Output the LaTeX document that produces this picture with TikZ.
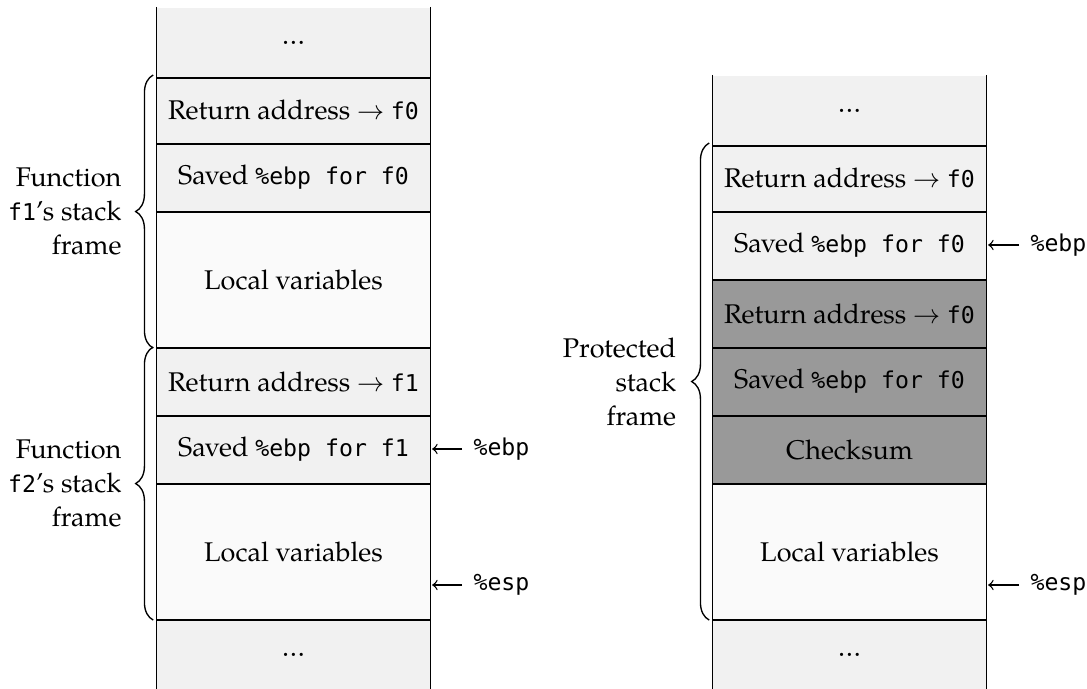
\documentclass[tikz,border=0pt]{standalone}
\usepackage{fontspec}
\setmainfont{TeX Gyre Pagella}
\setmonofont[Scale=MatchLowercase]{DejaVu Sans Mono}
\usetikzlibrary{decorations.pathreplacing}
\definecolor{cellgray}{HTML}{F1F1F1}
\definecolor{cellwhite}{HTML}{FAFAFA}
\definecolor{cellprot}{HTML}{999999}

\begin{document}
\begin{tikzpicture}[x=0.37pt,y=-0.37pt,
  font=\fontsize{10}{12.6}\selectfont,
  cell/.style={minimum width=101pt, minimum height=25.16pt, inner sep=0pt,
    anchor=north, fill=cellgray},
  opencell/.style={cell, minimum height=25.9pt},
  tall/.style={cell, minimum height=50.32pt, fill=cellwhite},
  prot/.style={cell, fill=cellprot},
  rule/.style={line width=0.5pt},
  framebrace/.style={decorate, decoration={brace, amplitude=6.5pt}, line width=0.5pt},
  bracelabel/.style={align=right, inner sep=0pt},
  ptr/.style={->, line width=0.5pt},
  reg/.style={anchor=west, inner sep=0pt, font=\fontsize{10}{12.6}\selectfont\ttfamily}
]
\useasboundingbox (0,0) rectangle (1087,689);

% ---- left stack: f1 and f2 frames
\node[opencell] (l0) at (293.5,7)   {\dots};
\node[cell]     (l1) at (293.5,75)  {Return address $\rightarrow$ \texttt{f0}};
\node[cell]     (l2) at (293.5,143) {Saved \texttt{\%ebp for f0}};
\node[tall]     (l3) at (293.5,211) {Local variables};
\node[cell]     (l4) at (293.5,347) {Return address $\rightarrow$ \texttt{f1}};
\node[cell]     (l5) at (293.5,415) {Saved \texttt{\%ebp for f1}};
\node[tall]     (l6) at (293.5,483) {Local variables};
\node[opencell] (l7) at (293.5,619) {\dots};

\foreach \c in {l0,l1,l2,l3,l4,l5,l6}
  \draw[rule] (\c.south west) -- (\c.south east);
\draw[rule] (l0.north west) -- (l7.south west);
\draw[rule] (l0.north east) -- (l7.south east);

\draw[framebrace] ([xshift=-1.2pt]l3.south west) -- ([xshift=-1.2pt]l1.north west)
  node[midway, left=11.5pt, bracelabel] (f1lab) {Function\\\texttt{f1}’s stack\\frame};
\draw[framebrace] ([xshift=-1.2pt]l6.south west) -- ([xshift=-1.2pt]l4.north west)
  node[midway, left=11.5pt, bracelabel] (f2lab) {Function\\\texttt{f2}’s stack\\frame};

\node[reg] (ebpL) at (473,449) {\%ebp};
\node[reg] (espL) at (473,585) {\%esp};
\coordinate (ebpLtip) at (ebpL -| l5.east);
\coordinate (espLtip) at (espL -| l6.east);
\draw[ptr] ([xshift=-4pt]ebpL.west) -- ([xshift=0.6pt]ebpLtip);
\draw[ptr] ([xshift=-4pt]espL.west) -- ([xshift=0.6pt]espLtip);

% ---- right stack: protected frame
\node[opencell] (r0) at (849.5,75)  {\dots};
\node[cell]     (r1) at (849.5,143) {Return address $\rightarrow$ \texttt{f0}};
\node[cell]     (r2) at (849.5,211) {Saved \texttt{\%ebp for f0}};
\node[prot]     (r3) at (849.5,279) {Return address $\rightarrow$ \texttt{f0}};
\node[prot]     (r4) at (849.5,347) {Saved \texttt{\%ebp for f0}};
\node[prot]     (r5) at (849.5,415) {Checksum};
\node[tall]     (r6) at (849.5,483) {Local variables};
\node[opencell] (r7) at (849.5,619) {\dots};

\foreach \c in {r0,r1,r2,r3,r4,r5,r6}
  \draw[rule] (\c.south west) -- (\c.south east);
\draw[rule] (r0.north west) -- (r7.south west);
\draw[rule] (r0.north east) -- (r7.south east);

\draw[framebrace] ([xshift=-1.2pt]r6.south west) -- ([xshift=-1.2pt]r1.north west)
  node[midway, left=12pt, bracelabel] (plab) {Protected\\stack\\frame};

\node[reg] (ebpR) at (1030,245) {\%ebp};
\node[reg] (espR) at (1030,585) {\%esp};
\coordinate (ebpRtip) at (ebpR -| r2.east);
\coordinate (espRtip) at (espR -| r6.east);
\draw[ptr] ([xshift=-4pt]ebpR.west) -- ([xshift=0.6pt]ebpRtip);
\draw[ptr] ([xshift=-4pt]espR.west) -- ([xshift=0.6pt]espRtip);
\end{tikzpicture}
\end{document}
